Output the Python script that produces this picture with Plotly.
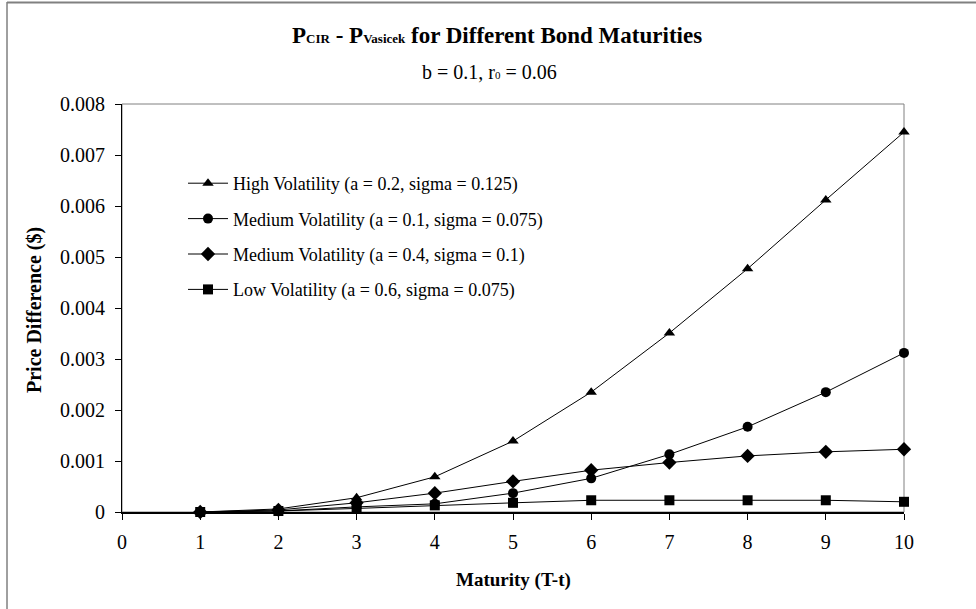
import plotly.graph_objects as go

maturity = [1, 2, 3, 4, 5, 6, 7, 8, 9, 10]
high_vol = [0, 0.00006, 0.00028, 0.00069, 0.00139, 0.00235, 0.00351, 0.00477, 0.00612, 0.00745]
med_vol_1 = [0, 0.00002, 0.00010, 0.00016, 0.00037, 0.00066, 0.00113, 0.00167, 0.00235, 0.00312]
med_vol_2 = [0, 0.00004, 0.00018, 0.00037, 0.00060, 0.00082, 0.00097, 0.00110, 0.00118, 0.00123]
low_vol = [0, 0.00002, 0.00007, 0.00013, 0.00018, 0.00023, 0.00023, 0.00023, 0.00023, 0.00020]

series_names = [
    "High Volatility (a = 0.2, sigma = 0.125)",
    "Medium Volatility (a = 0.1, sigma = 0.075)",
    "Medium Volatility (a = 0.4, sigma = 0.1)",
    "Low Volatility (a = 0.6, sigma = 0.075)",
]
series_symbols = ["triangle-up", "circle", "diamond", "square"]
series_values = [high_vol, med_vol_1, med_vol_2, low_vol]

x_ticks = [0, 1, 2, 3, 4, 5, 6, 7, 8, 9, 10]
y_ticks = [0, 0.001, 0.002, 0.003, 0.004, 0.005, 0.006, 0.007, 0.008]
y_tick_labels = ["0", "0.001", "0.002", "0.003", "0.004", "0.005", "0.006", "0.007", "0.008"]

FONT = "Liberation Serif, Times New Roman, serif"

fig = go.Figure()
for i, (name, sym, vals) in enumerate(zip(series_names, series_symbols, series_values)):
    fig.add_trace(go.Scatter(
        x=maturity, y=vals, name=name, mode="lines+markers",
        line=dict(color="black", width=1),
        marker=dict(symbol=sym, size=10 if sym != "diamond" else 11, color="black"),
        legendgroup=f"g{i}",
        cliponaxis=False,
    ))

W, H = 976, 609
L, R, T, B = 122, 72, 104, 97
pw, ph = W - L - R, H - T - B


def px_x(x):
    return (x - L) / pw


def px_y(y):
    return (H - B - y) / ph


fig.update_layout(
    width=W, height=H,
    margin=dict(l=L, r=R, t=T, b=B),
    paper_bgcolor="white", plot_bgcolor="white",
    font=dict(family=FONT, size=19, color="black"),
    showlegend=True,
    legend=dict(
        x=px_x(183), y=px_y(165), xanchor="left", yanchor="top",
        bgcolor="rgba(0,0,0,0)", font=dict(family=FONT, size=18, color="black"),
        tracegroupgap=9, itemwidth=40,
    ),
    xaxis=dict(
        range=[0, 10], tickvals=x_ticks, showgrid=False, zeroline=False,
        showline=True, linecolor="black", linewidth=2,
        ticks="outside", ticklen=6, tickcolor="black", tickwidth=1,
        tickfont=dict(family=FONT, size=20), ticklabelstandoff=5, fixedrange=True,
    ),
    yaxis=dict(
        range=[0, 0.008], tickvals=y_ticks, ticktext=y_tick_labels,
        showgrid=False, zeroline=False,
        showline=True, linecolor="black", linewidth=1,
        ticks="outside", ticklen=6, tickcolor="black", tickwidth=1,
        tickfont=dict(family=FONT, size=20), ticklabelstandoff=6,
    ),
    xaxis2=dict(
        overlaying="x", range=[0, 10], tickvals=x_ticks, showticklabels=False,
        showgrid=False, zeroline=False, showline=False,
        ticks="inside", ticklen=5, tickcolor="black", tickwidth=1,
    ),
    yaxis2=dict(
        overlaying="y", range=[0, 0.008], tickvals=y_ticks, showticklabels=False,
        showgrid=False, zeroline=False, showline=False,
        ticks="inside", ticklen=6, tickcolor="black", tickwidth=1,
    ),
    shapes=[
        dict(type="rect", xref="paper", yref="paper", x0=0, x1=1, y0=0, y1=1,
             line=dict(color="#808080", width=1), layer="below"),
        dict(type="line", xref="paper", yref="paper",
             x0=px_x(7), x1=px_x(7), y0=px_y(2), y1=px_y(640),
             line=dict(color="#404040", width=1)),
        dict(type="line", xref="paper", yref="paper",
             x0=px_x(7), x1=px_x(1000), y0=px_y(2.5), y1=px_y(2.5),
             line=dict(color="#808080", width=2)),
    ],
    annotations=[
        dict(xref="paper", yref="paper", x=px_x(497), y=px_y(36),
             xanchor="center", yanchor="middle", showarrow=False,
             text="<b>P<span style='font-size:13px'>CIR</span> - P<span style='font-size:13px'>Vasicek</span> for Different Bond Maturities</b>",
             font=dict(family=FONT, size=23, color="black")),
        dict(xref="paper", yref="paper", x=px_x(489), y=px_y(72),
             xanchor="center", yanchor="middle", showarrow=False,
             text="b = 0.1, r<span style='font-size:11px'>0</span> = 0.06",
             font=dict(family=FONT, size=20, color="black")),
        dict(xref="paper", yref="paper", x=0.5, y=px_y(580),
             xanchor="center", yanchor="middle", showarrow=False,
             text="<b>Maturity (T-t)</b>",
             font=dict(family=FONT, size=19, color="black")),
        dict(xref="paper", yref="paper", x=px_x(34), y=px_y(310),
             xanchor="center", yanchor="middle", showarrow=False, textangle=-90,
             text="<b>Price Difference ($)</b>",
             font=dict(family=FONT, size=20, color="black")),
    ],
)

fig.write_html("out.html")
